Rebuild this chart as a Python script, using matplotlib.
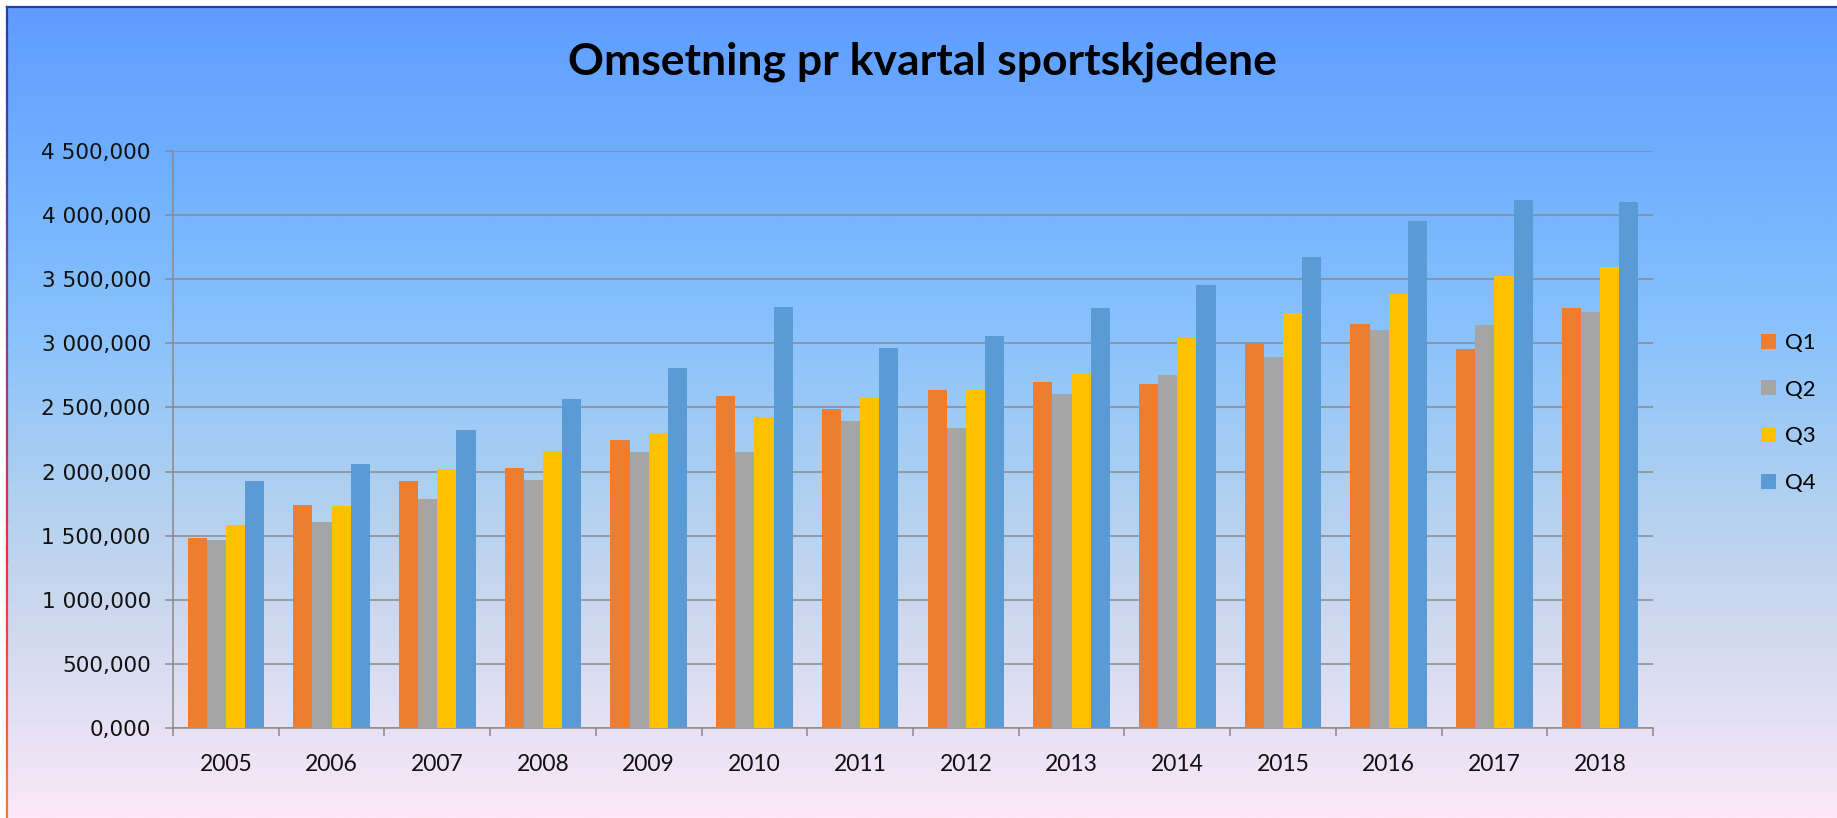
import numpy as np
import matplotlib
matplotlib.use("Agg")
import matplotlib.pyplot as plt
from matplotlib.colors import LinearSegmentedColormap
from matplotlib.ticker import FuncFormatter, MultipleLocator
from matplotlib.lines import Line2D

years = ["2005", "2006", "2007", "2008", "2009", "2010", "2011",
         "2012", "2013", "2014", "2015", "2016", "2017", "2018"]
q1 = [1478, 1737, 1928, 2024, 2245, 2588, 2490,
      2636, 2701, 2684, 2997, 3149, 2958, 3274]
q2 = [1466, 1603, 1785, 1934, 2149, 2149, 2397,
      2340, 2606, 2755, 2890, 3104, 3142, 3246]
q3 = [1585, 1728, 2018, 2158, 2304, 2424, 2579,
      2633, 2758, 3039, 3239, 3388, 3524, 3596]
q4 = [1925, 2060, 2322, 2564, 2809, 3287, 2967,
      3054, 3275, 3457, 3672, 3952, 4116, 4100]
series_names = ["Q1", "Q2", "Q3", "Q4"]
series_colors = ["#ED7D31", "#A5A5A5", "#FFC000", "#5B9BD5"]
title = "Omsetning pr kvartal sportskjedene"

W, H = 1837, 818
fig = plt.figure(figsize=(W / 100, H / 100), dpi=100)
fig.patch.set_facecolor("white")

# background gradient panel
bg = fig.add_axes([7 / W, 0, 1 - 7 / W, 1 - 7 / H], zorder=0)
stops = [(0.0, (94, 157, 255)), (0.2, (112, 176, 255)), (0.4, (137, 194, 252)),
         (0.6, (175, 208, 240)), (0.75, (205, 216, 238)), (0.9, (232, 226, 244)),
         (1.0, (251, 232, 248))]
cmap = LinearSegmentedColormap.from_list(
    "bg", [(p, tuple(c / 255 for c in col)) for p, col in stops])
grad = np.linspace(0, 1, 512).reshape(-1, 1)
bg.imshow(grad, aspect="auto", cmap=cmap, extent=[0, 1, 1, 0])
bg.set_xlim(0, 1)
bg.set_ylim(1, 0)
bg.axis("off")

# border lines (top dark blue, left blue->red)
fig.add_artist(Line2D([7 / W, 1], [1 - 7 / H, 1 - 7 / H], color="#2B3CA8", lw=1.6,
                      transform=fig.transFigure))
border_cmap = LinearSegmentedColormap.from_list("bd", ["#2B3CA8", "#7040A0", "#E8303A", "#F08030"])
n_seg = 60
ys = np.linspace(1 - 7 / H, 0, n_seg + 1)
for i in range(n_seg):
    fig.add_artist(Line2D([7 / W, 7 / W], [ys[i], ys[i + 1]],
                          color=border_cmap(i / n_seg), lw=1.6,
                          transform=fig.transFigure))

left, right, top, bottom = 173, 1653, 151, 728
ax = fig.add_axes([left / W, 1 - bottom / H, (right - left) / W, (bottom - top) / H], zorder=2)
ax.patch.set_alpha(0)

x = np.arange(len(years))
bw = 0.181
data = [q1, q2, q3, q4]
handles = []
for i, (vals, name, col) in enumerate(zip(data, series_names, series_colors)):
    b = ax.bar(x + (i - 1.5) * bw, vals, width=bw, color=col, label=name, zorder=3)
    handles.append(b)

ax.set_xlim(-0.5, len(years) - 0.5)
ax.set_ylim(0, 4500)
ax.yaxis.set_major_locator(MultipleLocator(500))

def fmt(v, pos):
    s = f"{v:,.3f}"
    return s.replace(",", " ").replace(".", ",")
ax.yaxis.set_major_formatter(FuncFormatter(fmt))

ax.grid(axis="y", color="#8A8A8A", lw=1.1, zorder=1)
ax.set_axisbelow(True)
for s in ["top", "right"]:
    ax.spines[s].set_visible(False)
for s in ["left", "bottom"]:
    ax.spines[s].set_color("#8A8A8A")
    ax.spines[s].set_linewidth(1.1)

ax.set_xticks(x)
ax.set_xticklabels(years)
ax.set_xticks(np.arange(len(years) + 1) - 0.5, minor=True)
ax.tick_params(axis="x", which="major", length=0, pad=19)
ax.tick_params(axis="x", which="minor", length=6, width=1.1, color="#8A8A8A", direction="out")
ax.tick_params(axis="y", length=6, width=1.1, color="#8A8A8A", pad=10)
for lab in ax.get_yticklabels():
    lab.set_fontfamily("DejaVu Sans")
    lab.set_fontsize(15.6)
    lab.set_color("#111111")
for lab in ax.get_xticklabels():
    lab.set_fontfamily("Lato")
    lab.set_fontsize(16.5)
    lab.set_color("#111111")

fig.text(922 / W, 1 - 62 / H, title, ha="center", va="center",
         fontfamily="Lato", fontweight="bold", fontsize=32, color="black")

leg = fig.legend(handles=handles, labels=series_names, loc="upper left",
                 bbox_to_anchor=(1761 / W, 1 - 333 / H), frameon=False,
                 prop={"family": "Lato", "size": 16},
                 handlelength=0.66, handleheight=0.66, handletextpad=0.4,
                 labelspacing=1.2, borderpad=0, borderaxespad=0)

fig.savefig("out.png", dpi=100)
